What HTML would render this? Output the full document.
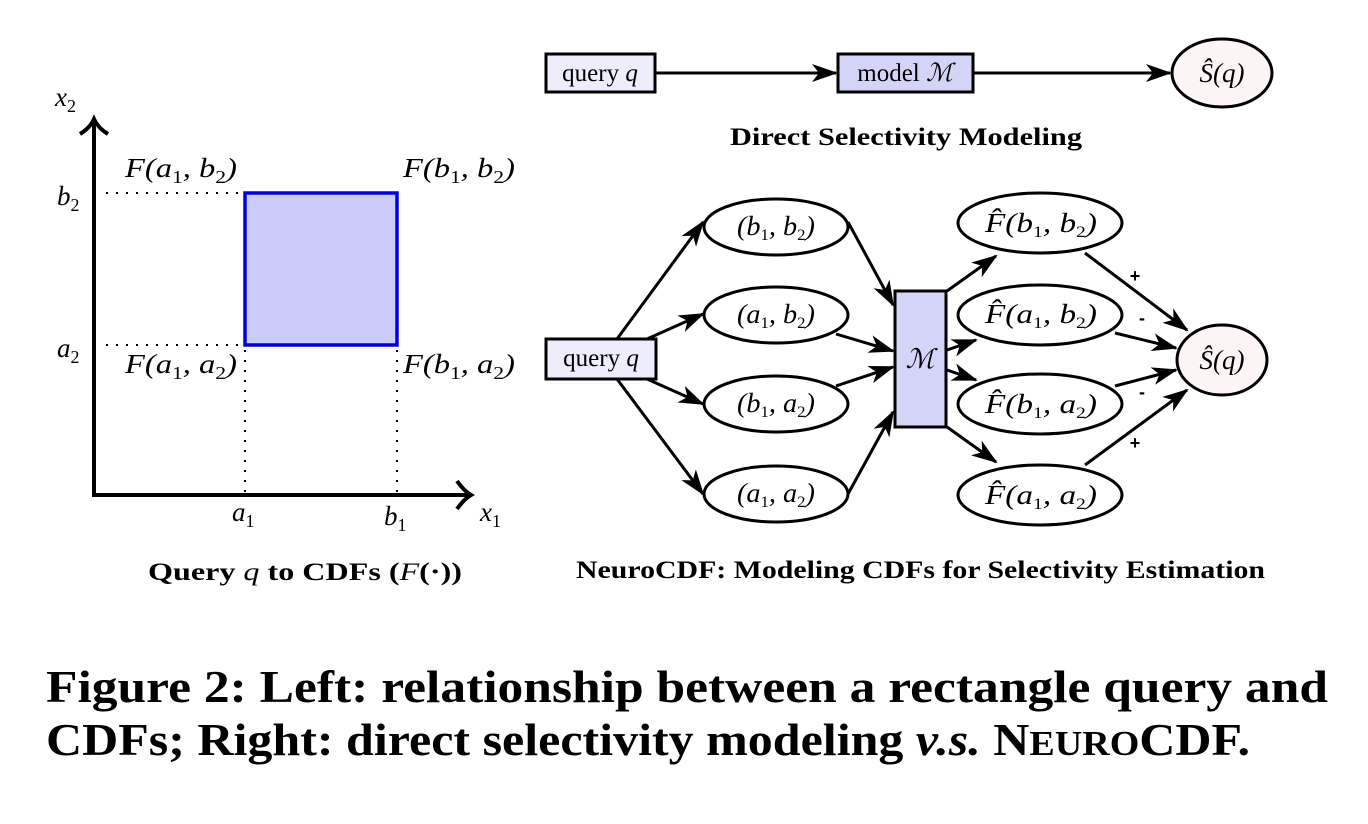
<!DOCTYPE html>
<html><head><meta charset="utf-8"><style>
html,body{margin:0;padding:0;background:#fff;}
svg{display:block;}
.m{font-family:"Liberation Serif",serif;font-style:italic;font-size:27px;}
.t{font-family:"Liberation Serif",serif;font-size:25px;}
.b{font-family:"Liberation Serif",serif;font-weight:bold;font-size:25px;}
.cap{font-family:"Liberation Serif",serif;font-weight:bold;font-size:46px;}
</style></head><body>
<svg width="1368" height="824" viewBox="0 0 1368 824" xmlns="http://www.w3.org/2000/svg">
<defs>
<marker id="ar" viewBox="0 0 26 18" refX="24" refY="9" markerWidth="26" markerHeight="18" markerUnits="userSpaceOnUse" orient="auto">
<path d="M0,0 L26,9 L0,18 L7,9 Z" fill="#000"/>
</marker>
</defs>
<!-- Left panel -->
<rect x="245" y="193" width="152" height="152" fill="#ccccfa" stroke="#0000dd" stroke-width="3.5"/>
<g stroke="#000" stroke-width="2" stroke-dasharray="2,8" fill="none">
<line x1="106" y1="193" x2="245" y2="193"/>
<line x1="106" y1="345" x2="245" y2="345"/>
<line x1="245" y1="350" x2="245" y2="494"/>
<line x1="397" y1="350" x2="397" y2="494"/>
</g>
<g stroke="#000" stroke-width="4" fill="none">
<line x1="94" y1="495" x2="94" y2="122"/>
<line x1="92" y1="495" x2="468" y2="495"/>
<path d="M80,134 Q90,128 94,119 Q98,128 108,134" stroke-width="4"/>
<path d="M457,481 Q464,491 471,495 Q464,499 457,509" stroke-width="4"/>
</g>
<text class="m" x="55" y="106">x<tspan font-size="18" font-style="normal" dy="6">2</tspan></text>
<text class="m" x="57" y="205">b<tspan font-size="18" font-style="normal" dy="6">2</tspan></text>
<text class="m" x="57" y="357">a<tspan font-size="18" font-style="normal" dy="6">2</tspan></text>
<text class="m" x="125" y="177" textLength="112" lengthAdjust="spacingAndGlyphs">F(a<tspan font-size="18" font-style="normal" dy="6">1</tspan><tspan dy="-6">, b</tspan><tspan font-size="18" font-style="normal" dy="6">2</tspan><tspan dy="-6">)</tspan></text>
<text class="m" x="403" y="177" textLength="112" lengthAdjust="spacingAndGlyphs">F(b<tspan font-size="18" font-style="normal" dy="6">1</tspan><tspan dy="-6">, b</tspan><tspan font-size="18" font-style="normal" dy="6">2</tspan><tspan dy="-6">)</tspan></text>
<text class="m" x="125" y="373" textLength="112" lengthAdjust="spacingAndGlyphs">F(a<tspan font-size="18" font-style="normal" dy="6">1</tspan><tspan dy="-6">, a</tspan><tspan font-size="18" font-style="normal" dy="6">2</tspan><tspan dy="-6">)</tspan></text>
<text class="m" x="403" y="373" textLength="112" lengthAdjust="spacingAndGlyphs">F(b<tspan font-size="18" font-style="normal" dy="6">1</tspan><tspan dy="-6">, a</tspan><tspan font-size="18" font-style="normal" dy="6">2</tspan><tspan dy="-6">)</tspan></text>
<text class="m" x="232" y="521">a<tspan font-size="18" font-style="normal" dy="6">1</tspan></text>
<text class="m" x="384" y="525">b<tspan font-size="18" font-style="normal" dy="6">1</tspan></text>
<text class="m" x="480" y="521">x<tspan font-size="18" font-style="normal" dy="6">1</tspan></text>
<text class="b" x="148" y="580" textLength="314" lengthAdjust="spacingAndGlyphs">Query <tspan font-style="italic" font-weight="normal">q</tspan> to CDFs (<tspan font-style="italic" font-weight="normal">F</tspan>(·))</text>

<!-- Top right -->
<g stroke="#000" stroke-width="3" fill="none">
<line x1="656" y1="73" x2="836" y2="73" marker-end="url(#ar)"/>
<line x1="974" y1="73" x2="1170" y2="73" marker-end="url(#ar)"/>
</g>
<rect x="546" y="54" width="109" height="38" fill="#ededfc" stroke="#000" stroke-width="3"/>
<text class="t" x="600" y="81" text-anchor="middle">query <tspan font-style="italic">q</tspan></text>
<rect x="838" y="54" width="135" height="38" fill="#d4d4f8" stroke="#000" stroke-width="3"/>
<text class="t" x="905" y="81" text-anchor="middle">model <tspan font-style="italic">ℳ</tspan></text>
<ellipse cx="1222" cy="73" rx="50" ry="34" fill="#fdf5f5" stroke="#000" stroke-width="3"/>
<text class="m" x="1222" y="82" text-anchor="middle">Ŝ(q)</text>
<text class="b" x="730" y="145" textLength="352" lengthAdjust="spacingAndGlyphs">Direct Selectivity Modeling</text>

<!-- Bottom right connectors -->
<g stroke="#000" stroke-width="3" fill="none">
<line x1="617" y1="339" x2="703" y2="222" marker-end="url(#ar)"/>
<line x1="647" y1="339" x2="703" y2="314" marker-end="url(#ar)"/>
<line x1="647" y1="379" x2="703" y2="404" marker-end="url(#ar)"/>
<line x1="617" y1="379" x2="703" y2="494" marker-end="url(#ar)"/>
<line x1="848" y1="222" x2="893" y2="305" marker-end="url(#ar)"/>
<line x1="836" y1="334" x2="893" y2="351" marker-end="url(#ar)"/>
<line x1="836" y1="386" x2="893" y2="367" marker-end="url(#ar)"/>
<line x1="848" y1="494" x2="893" y2="412" marker-end="url(#ar)"/>
<line x1="947" y1="291" x2="996" y2="256" marker-end="url(#ar)"/>
<line x1="947" y1="350" x2="976" y2="340" marker-end="url(#ar)"/>
<line x1="947" y1="370" x2="976" y2="380" marker-end="url(#ar)"/>
<line x1="947" y1="427" x2="996" y2="462" marker-end="url(#ar)"/>
<line x1="1085" y1="253" x2="1187" y2="330" marker-end="url(#ar)"/>
<line x1="1115" y1="333" x2="1176" y2="348" marker-end="url(#ar)"/>
<line x1="1115" y1="386" x2="1176" y2="370" marker-end="url(#ar)"/>
<line x1="1085" y1="465" x2="1187" y2="390" marker-end="url(#ar)"/>
</g>
<rect x="546" y="339" width="110" height="40" fill="#ededfc" stroke="#000" stroke-width="3"/>
<text class="t" x="601" y="366" text-anchor="middle">query <tspan font-style="italic">q</tspan></text>
<g fill="#fff" stroke="#000" stroke-width="3">
<ellipse cx="776" cy="227" rx="72" ry="28"/>
<ellipse cx="776" cy="315" rx="72" ry="28"/>
<ellipse cx="776" cy="404" rx="72" ry="28"/>
<ellipse cx="776" cy="494" rx="72" ry="28"/>
<ellipse cx="1040" cy="223" rx="82" ry="30"/>
<ellipse cx="1040" cy="315" rx="82" ry="30"/>
<ellipse cx="1040" cy="404" rx="82" ry="30"/>
<ellipse cx="1040" cy="495" rx="82" ry="30"/>
</g>
<rect x="895" y="291" width="51" height="136" fill="#d4d4f8" stroke="#000" stroke-width="3"/>
<text class="m" x="920" y="368" text-anchor="middle">ℳ</text>
<ellipse cx="1222" cy="360" rx="45" ry="35" fill="#fdf5f5" stroke="#000" stroke-width="3"/>
<text class="m" x="1222" y="369" text-anchor="middle">Ŝ(q)</text>
<g class="m" font-size="24">
<text x="737" y="235" textLength="78" lengthAdjust="spacingAndGlyphs">(b<tspan font-size="16" font-style="normal" dy="5">1</tspan><tspan dy="-5">, b</tspan><tspan font-size="16" font-style="normal" dy="5">2</tspan><tspan dy="-5">)</tspan></text>
<text x="737" y="323" textLength="78" lengthAdjust="spacingAndGlyphs">(a<tspan font-size="16" font-style="normal" dy="5">1</tspan><tspan dy="-5">, b</tspan><tspan font-size="16" font-style="normal" dy="5">2</tspan><tspan dy="-5">)</tspan></text>
<text x="737" y="412" textLength="78" lengthAdjust="spacingAndGlyphs">(b<tspan font-size="16" font-style="normal" dy="5">1</tspan><tspan dy="-5">, a</tspan><tspan font-size="16" font-style="normal" dy="5">2</tspan><tspan dy="-5">)</tspan></text>
<text x="737" y="502" textLength="78" lengthAdjust="spacingAndGlyphs">(a<tspan font-size="16" font-style="normal" dy="5">1</tspan><tspan dy="-5">, a</tspan><tspan font-size="16" font-style="normal" dy="5">2</tspan><tspan dy="-5">)</tspan></text>
<text x="985" y="232" textLength="112" lengthAdjust="spacingAndGlyphs">F̂(b<tspan font-size="16" font-style="normal" dy="5">1</tspan><tspan dy="-5">, b</tspan><tspan font-size="16" font-style="normal" dy="5">2</tspan><tspan dy="-5">)</tspan></text>
<text x="985" y="323" textLength="112" lengthAdjust="spacingAndGlyphs">F̂(a<tspan font-size="16" font-style="normal" dy="5">1</tspan><tspan dy="-5">, b</tspan><tspan font-size="16" font-style="normal" dy="5">2</tspan><tspan dy="-5">)</tspan></text>
<text x="985" y="413" textLength="112" lengthAdjust="spacingAndGlyphs">F̂(b<tspan font-size="16" font-style="normal" dy="5">1</tspan><tspan dy="-5">, a</tspan><tspan font-size="16" font-style="normal" dy="5">2</tspan><tspan dy="-5">)</tspan></text>
<text x="985" y="504" textLength="112" lengthAdjust="spacingAndGlyphs">F̂(a<tspan font-size="16" font-style="normal" dy="5">1</tspan><tspan dy="-5">, a</tspan><tspan font-size="16" font-style="normal" dy="5">2</tspan><tspan dy="-5">)</tspan></text>
</g>
<g font-family="Liberation Sans, sans-serif" font-weight="bold" font-size="18" text-anchor="middle">
<text x="1135" y="282">+</text>
<text x="1142" y="324">-</text>
<text x="1142" y="398">-</text>
<text x="1135" y="449">+</text>
</g>
<text class="b" x="576" y="578" textLength="689" lengthAdjust="spacingAndGlyphs">NeuroCDF: Modeling CDFs for Selectivity Estimation</text>

<!-- Figure caption -->
<text class="cap" x="46" y="702" textLength="1282" lengthAdjust="spacingAndGlyphs">Figure 2: Left: relationship between a rectangle query and</text>
<text class="cap" x="46" y="755" textLength="1204" lengthAdjust="spacingAndGlyphs">CDFs; Right: direct selectivity modeling <tspan font-style="italic">v.s.</tspan> N<tspan font-size="35">EURO</tspan>CDF.</text>
</svg>
</body></html>
